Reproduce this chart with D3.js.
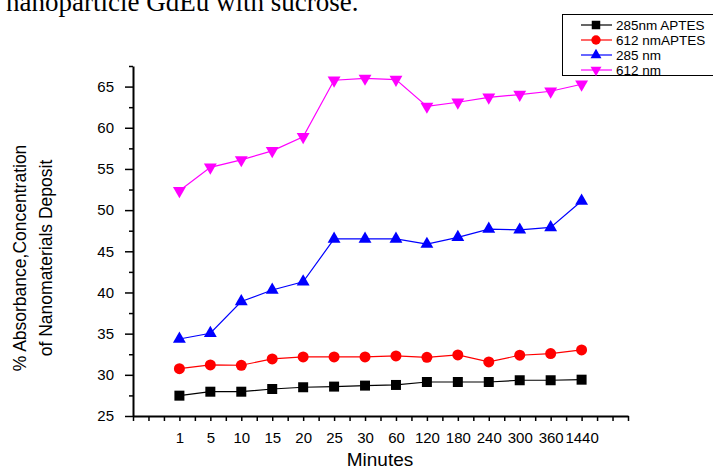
<!DOCTYPE html>
<html>
<head>
<meta charset="utf-8">
<script src="https://cdn.jsdelivr.net/npm/d3@7"></script>
<style>
  body { margin: 0; background: #fff; }
  svg { display: block; }
  .tick text { font-family: "Liberation Sans", Arial, sans-serif; font-size: 15px; fill: #000; }
</style>
</head>
<body>
<div id="chart"></div>
<script>
// time points on the category axis
const minutes = ['1', '5', '10', '15', '20', '25', '30', '60', '120', '180', '240', '300', '360', '1440'];

// series values
const aptes285 = [27.47, 27.95, 27.95, 28.28, 28.49, 28.57, 28.69, 28.77, 29.13, 29.13, 29.13, 29.34, 29.34, 29.41];
const aptes612 = [30.75, 31.2, 31.16, 31.93, 32.17, 32.17, 32.17, 32.3, 32.13, 32.42, 31.57, 32.38, 32.58, 33.02];
const nm285 = [34.35, 35.05, 38.9, 40.3, 41.3, 46.5, 46.5, 46.5, 45.87, 46.7, 47.7, 47.6, 47.9, 51.1];
const nm612 = [52.36, 55.2, 56.1, 57.2, 58.9, 65.77, 66.0, 65.85, 62.6, 63.1, 63.7, 64.03, 64.43, 65.28];

const yTicks = d3.range(25, 67.6, 2.5);

const series = [
  { name: '285nm APTES', values: aptes285, color: '#000000', shape: 'square' },
  { name: '612 nmAPTES', values: aptes612, color: '#ff0000', shape: 'circle' },
  { name: '285 nm', values: nm285, color: '#0000ff', shape: 'up' },
  { name: '612 nm', values: nm612, color: '#ff00ff', shape: 'down' },
];

const width = 713;
const height = 470;

const svg = d3.select('#chart')
  .append('svg')
  .attr('width', width)
  .attr('height', height);

// bit of paper text clipped at the top
svg.append('text')
  .attr('x', 6)
  .attr('y', 11)
  .attr('font-family', '"Liberation Serif", "Times New Roman", serif')
  .attr('font-size', 27)
  .attr('fill', '#000')
  .text('nanoparticle GdEu with sucrose.');

const x = d3.scaleLinear().domain([-1.5, 14.5]).range([133, 628]);
const y = d3.scaleLinear().domain([25, 67.5]).range([416, 66]);

// y axis
const yAxis = svg.append('g')
  .attr('transform', `translate(${x(-1.5)},0)`)
  .call(d3.axisLeft(y)
    .tickValues(yTicks)
    .tickSizeInner(8)
    .tickSizeOuter(0)
    .tickPadding(11)
    .tickFormat(d => (d % 5 === 0 ? d : '')));
yAxis.select('.domain').attr('stroke-width', 2);
yAxis.selectAll('.tick line')
  .attr('stroke-width', 1.5)
  .attr('x2', d => (d % 5 === 0 ? -8 : -4));

// x axis
const xAxis = svg.append('g')
  .attr('transform', `translate(0,${y(25)})`)
  .call(d3.axisBottom(x)
    .tickValues(d3.range(-1.5, 14.6, 0.5))
    .tickSizeInner(5)
    .tickSizeOuter(0)
    .tickPadding(11)
    .tickFormat(d => (Number.isInteger(d) && d >= 0 && d < minutes.length ? minutes[d] : '')));
xAxis.select('.domain').attr('stroke-width', 2);
xAxis.selectAll('.tick line').attr('stroke-width', 1.5);

// axis titles
svg.append('text')
  .attr('x', 380)
  .attr('y', 466)
  .attr('text-anchor', 'middle')
  .attr('font-family', '"Liberation Sans", Arial, sans-serif')
  .attr('font-size', 19)
  .text('Minutes');

const yTitle = svg.append('g')
  .attr('transform', 'translate(0,258) rotate(-90)')
  .attr('font-family', '"Liberation Sans", Arial, sans-serif')
  .attr('font-size', 17.5)
  .attr('text-anchor', 'middle');
yTitle.append('text').attr('x', 0).attr('y', 26).text('% Absorbance,Concentration');
yTitle.append('text').attr('x', 0).attr('y', 52).text('of Nanomaterials Deposit');

function marker(shape, scale) {
  const k = scale || 1;
  if (shape === 'square') return d3.symbol(d3.symbolSquare, 100 * k * k)();
  if (shape === 'circle') return d3.symbol(d3.symbolCircle, 95 * k * k)();
  return d3.symbol(d3.symbolTriangle, 72 * k * k)();
}

const line = d3.line()
  .x((d, i) => x(i))
  .y(d => y(d));

series.forEach(s => {
  const g = svg.append('g');
  g.append('path')
    .attr('d', line(s.values))
    .attr('fill', 'none')
    .attr('stroke', s.color)
    .attr('stroke-width', 1.2);
  g.selectAll('path.pt')
    .data(s.values)
    .enter()
    .append('path')
    .attr('class', 'pt')
    .attr('d', marker(s.shape))
    .attr('fill', s.color)
    .attr('transform', (d, i) => `translate(${x(i)},${y(d)})${s.shape === 'down' ? ' rotate(180)' : ''}`);
});

// legend
const legend = svg.append('g');
legend.append('rect')
  .attr('x', 562.5)
  .attr('y', 14.5)
  .attr('width', 160)
  .attr('height', 61)
  .attr('fill', '#fff')
  .attr('stroke', '#000')
  .attr('stroke-width', 1);

series.forEach((s, i) => {
  const ly = 25 + i * 15;
  legend.append('line')
    .attr('x1', 581).attr('x2', 612)
    .attr('y1', ly).attr('y2', ly)
    .attr('stroke', s.color)
    .attr('stroke-width', 1.2);
  legend.append('path')
    .attr('d', marker(s.shape, 0.85))
    .attr('fill', s.color)
    .attr('transform', `translate(596,${ly})${s.shape === 'down' ? ' rotate(180)' : ''}`);
  legend.append('text')
    .attr('x', 616)
    .attr('y', ly + 4.5)
    .attr('font-family', '"Liberation Sans", Arial, sans-serif')
    .attr('font-size', 13.5)
    .text(s.name);
});
</script>
</body>
</html>
